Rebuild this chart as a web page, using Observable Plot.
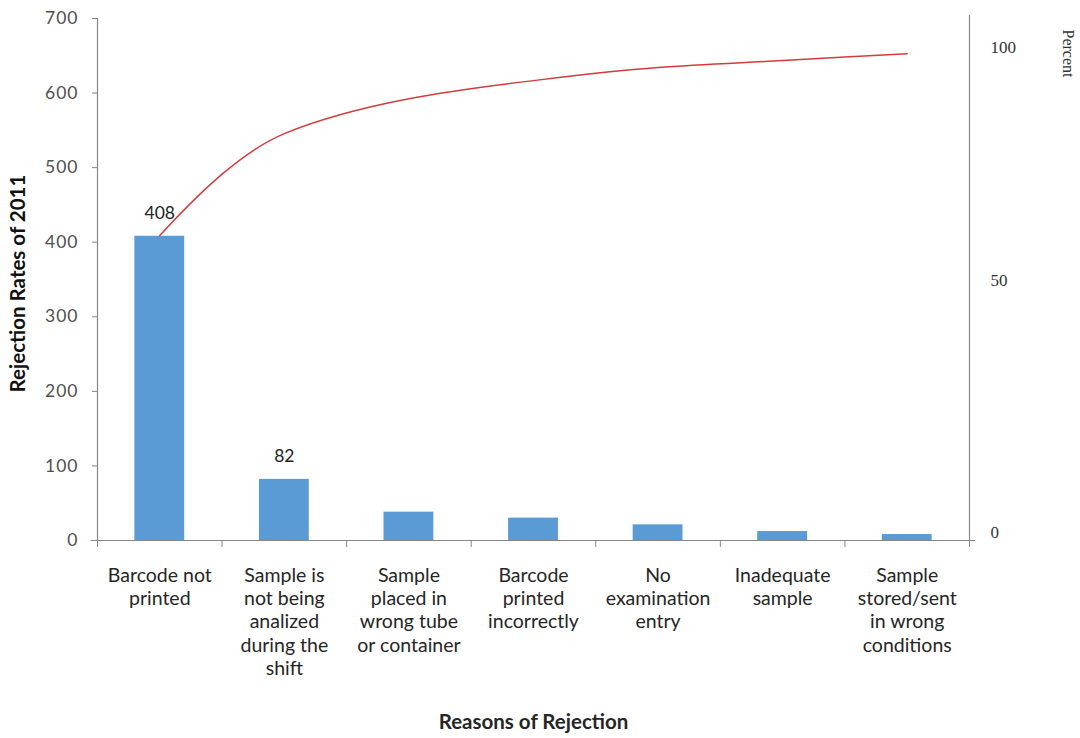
<!DOCTYPE html>
<html>
<head>
<meta charset="utf-8">
<script src="https://cdn.jsdelivr.net/npm/d3@7"></script>
<script src="https://cdn.jsdelivr.net/npm/@observablehq/plot@0.6"></script>
<style>
  html, body { margin: 0; padding: 0; background: #fff; }
  #chart svg { display: block; }
  g[aria-label="category labels"] text { letter-spacing: 1.1px; }
  g[aria-label="y-axis tick label"] { letter-spacing: 1px; }
  g[aria-label="bar labels"] text { letter-spacing: 1px; }
  g[aria-label="x title"] text { letter-spacing: 2px; }
  g[aria-label="y title"] text { letter-spacing: 0.5px; }
</style>
</head>
<body>
<div id="chart"></div>
<script>
// ---- data ----
const categories = [
  "Barcode not printed",
  "Sample is not being analized during the shift",
  "Sample placed in wrong tube or container",
  "Barcode printed incorrectly",
  "No examination entry",
  "Inadequate sample",
  "Sample stored/sent in wrong conditions"
];
const categoryLabels = [
  "Barcode not\nprinted",
  "Sample is\nnot being\nanalized\nduring the\nshift",
  "Sample\nplaced in\nwrong tube\nor container",
  "Barcode\nprinted\nincorrectly",
  "No\nexamination\nentry",
  "Inadequate\nsample",
  "Sample\nstored/sent\nin wrong\nconditions"
];
const rejections = [408, 82, 38, 30, 21, 12, 8];
const labelledBars = [0, 1];                 // bars carrying a value label
const cumulativePercent = [59.6, 81.5, 89.0, 92.9, 95.7, 97.2, 98.7];
const leftTicks = [0, 100, 200, 300, 400, 500, 600, 700];
const rightTicks = [0, 50, 100];
// how the secondary (percent) axis of the picture lines up with the count axis
const percentStops = [0, 50, 100];
const countAtPercentStops = [10.7, 349, 661];

const pct = d3.scaleLinear().domain(percentStops).range(countAtPercentStops);
const boundaries = d3.range(categories.length + 1);
const axisGray = "#868686";
const sans = "Lato, 'Open Sans', sans-serif";
const serif = "'Liberation Serif', 'DejaVu Serif', serif";

// smooth, shape-preserving (PCHIP) curve factory for the cumulative line
function curvePchip(context) {
  let xs, ys;
  return {
    areaStart() {}, areaEnd() {},
    lineStart() { xs = []; ys = []; },
    point(x, y) { xs.push(+x); ys.push(+y); },
    lineEnd() {
      const n = xs.length;
      if (!n) return;
      context.moveTo(xs[0], ys[0]);
      if (n === 1) return;
      const h = [], s = [];
      for (let i = 0; i < n - 1; i++) {
        h.push(xs[i + 1] - xs[i]);
        s.push((ys[i + 1] - ys[i]) / h[i]);
      }
      if (n === 2) { context.lineTo(xs[1], ys[1]); return; }
      const m = new Array(n);
      for (let i = 1; i < n - 1; i++) {
        if (s[i - 1] * s[i] <= 0) { m[i] = 0; continue; }
        const w1 = 2 * h[i] + h[i - 1], w2 = h[i] + 2 * h[i - 1];
        m[i] = (w1 + w2) / (w1 / s[i - 1] + w2 / s[i]);
      }
      const endSlope = (h0, h1, s0, s1) => {
        let d = ((2 * h0 + h1) * s0 - h0 * s1) / (h0 + h1);
        if (Math.sign(d) !== Math.sign(s0)) d = 0;
        else if (Math.sign(s0) !== Math.sign(s1) && Math.abs(d) > Math.abs(3 * s0)) d = 3 * s0;
        return d;
      };
      m[0] = endSlope(h[0], h[1], s[0], s[1]);
      m[n - 1] = endSlope(h[n - 2], h[n - 3], s[n - 2], s[n - 3]);
      for (let i = 0; i < n - 1; i++) {
        const d = h[i] / 3;
        context.bezierCurveTo(
          xs[i] + d, ys[i] + m[i] * d,
          xs[i + 1] - d, ys[i + 1] - m[i + 1] * d,
          xs[i + 1], ys[i + 1]
        );
      }
    }
  };
}

const chart = Plot.plot({
  width: 1080,
  height: 738,
  marginLeft: 97,
  marginRight: 111,
  marginTop: 18,
  marginBottom: 198,
  x: {type: "linear", domain: [0, categories.length], axis: null},
  y: {domain: [0, 700], axis: null},
  marks: [
    Plot.rectY(rejections, {
      x1: (d, i) => i + 0.3, x2: (d, i) => i + 0.7, y: d => d, fill: "#5b9bd5"
    }),
    Plot.text(labelledBars, {
      x: i => i + 0.5, y: i => rejections[i], text: i => String(rejections[i]),
      lineAnchor: "middle", dy: -23, fontSize: 17.5, fontFamily: sans, fill: "#222",
      ariaLabel: "bar labels"
    }),
    // axis lines
    Plot.ruleX([0], {y1: 0, y2: 700, stroke: axisGray, strokeWidth: 1.2}),
    Plot.ruleX([categories.length], {y1: 0, y2: 704, stroke: axisGray, strokeWidth: 1.2}),
    Plot.ruleY([0], {x1: -0.05, x2: categories.length + 0.05, stroke: axisGray, strokeWidth: 1.2}),
    // left axis
    Plot.axisY({
      anchor: "left", ticks: leftTicks, tickSize: 5, tickPadding: 14,
      fontSize: 17.5, fontFamily: sans, color: "#505050", stroke: axisGray,
      label: null
    }),
    // category separators
    Plot.axisX({
      anchor: "bottom", ticks: boundaries, tickFormat: () => "", tickSize: 7,
      stroke: axisGray, label: null
    }),
    // category labels
    Plot.text(categoryLabels, {
      x: (d, i) => i + 0.5, y: 0, text: d => d, lineAnchor: "top",
      dy: 25, lineHeight: 1.19, fontSize: 19.5, fontFamily: sans, fill: "#262626",
      ariaLabel: "category labels"
    }),
    // cumulative percent curve
    Plot.line(cumulativePercent, {
      x: (d, i) => i + 0.5, y: d => pct(d), curve: curvePchip,
      stroke: "#d23c3c", strokeWidth: 1.5
    }),
    // right axis labels
    Plot.text(rightTicks, {
      x: categories.length, y: d => pct(d), text: d => String(d),
      textAnchor: "start", dx: 21, fontSize: 17, fontFamily: serif, fill: "#333"
    }),
    // axis titles
    Plot.text(["Rejection Rates of 2011"], {
      frameAnchor: "left", textAnchor: "middle", lineAnchor: "middle",
      rotate: -90, dx: -79, dy: 4, fontSize: 20.5, fontWeight: "bold",
      fontFamily: sans, fill: "#111", ariaLabel: "y title"
    }),
    Plot.text(["Reasons of Rejection"], {
      frameAnchor: "bottom", textAnchor: "middle", lineAnchor: "middle",
      dy: 182, fontSize: 20.5, fontWeight: "bold",
      fontFamily: sans, fill: "#262626", ariaLabel: "x title"
    }),
    Plot.text(["Percent"], {
      frameAnchor: "top-right", textAnchor: "middle", lineAnchor: "middle",
      rotate: 90, dx: 99, dy: 35, fontSize: 16,
      fontFamily: serif, fill: "#333"
    })
  ]
});
document.getElementById("chart").append(chart);
</script>
</body>
</html>
